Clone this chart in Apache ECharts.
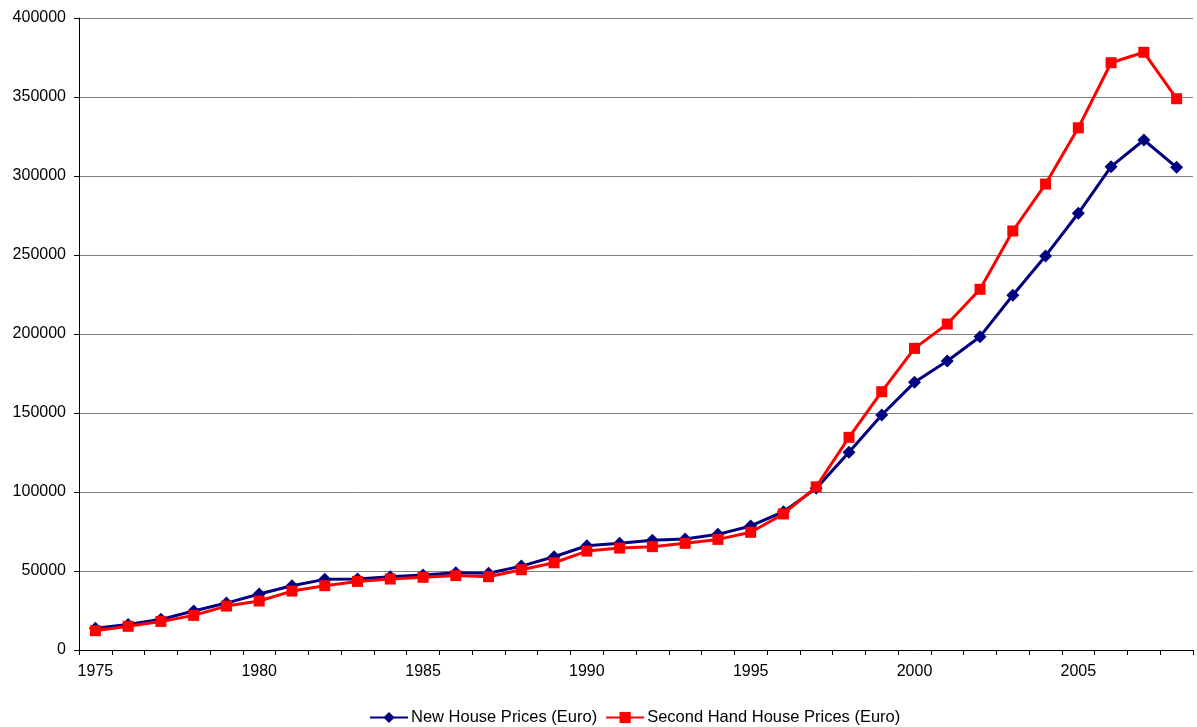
<!DOCTYPE html>
<html>
<head>
<meta charset="utf-8">
<script src="https://cdn.jsdelivr.net/npm/echarts@6/dist/echarts.min.js"></script>
<style>
  html, body { margin: 0; padding: 0; background: #fff; }
  #chart { width: 1197px; height: 727px; }
</style>
</head>
<body>
<div id="chart"></div>
<script>
// Years on the category axis
const years = [
  '1975','1976','1977','1978','1979','1980','1981','1982','1983','1984',
  '1985','1986','1987','1988','1989','1990','1991','1992','1993','1994',
  '1995','1996','1997','1998','1999','2000','2001','2002','2003','2004',
  '2005','2006','2007','2008'
];

// Average new house prices (Euro)
const newHousePrices = [
  13700, 16200, 19400, 24700, 29700, 35400, 40700, 44700, 44900, 46400,
  47400, 48900, 48600, 53100, 59000, 66000, 67500, 69400, 70200, 73200,
  78500, 87500, 102300, 125100, 148700, 169400, 182900, 198300, 224500, 249400,
  276400, 305900, 322800, 305500
];

// Average second hand house prices (Euro)
const secondHandPrices = [
  12200, 15000, 18100, 21900, 27800, 31000, 37300, 40700, 43400, 44900,
  46000, 47100, 46400, 50800, 55200, 62600, 64500, 65400, 67500, 70000,
  74500, 86100, 103300, 134600, 163500, 190900, 206300, 228300, 265200, 294900,
  330500, 371700, 378300, 348900
];

const seriesNames = ['New House Prices (Euro)', 'Second Hand House Prices (Euro)'];

const chart = echarts.init(document.getElementById('chart'), null, { renderer: 'canvas' });

const font = 'Arial, "Liberation Sans", sans-serif';

chart.setOption({
  animation: false,
  backgroundColor: '#ffffff',
  grid: { left: 79, right: 4, top: 18, bottom: 77, containLabel: false },
  legend: {
    top: 704,
    left: 364,
    itemWidth: 38,
    itemHeight: 14,
    itemGap: 8,
    textStyle: { fontFamily: font, fontSize: 16.5, color: '#000', padding: [0, 0, 0, -2] },
    data: seriesNames
  },
  xAxis: {
    type: 'category',
    data: years,
    boundaryGap: true,
    axisLine: { lineStyle: { color: '#000', width: 1 } },
    axisTick: { show: true, interval: 0, length: 5, lineStyle: { color: '#000' } },
    axisLabel: { interval: 4, fontFamily: font, fontSize: 16, color: '#000', margin: 14 },
    splitLine: { show: false }
  },
  yAxis: {
    type: 'value',
    min: 0,
    max: 400000,
    interval: 50000,
    axisLine: { show: true, lineStyle: { color: '#000', width: 1 } },
    axisTick: { show: true, length: 5, lineStyle: { color: '#000' } },
    axisLabel: {
      fontFamily: font, fontSize: 16, color: '#000', margin: 13,
      formatter: (v) => String(v)
    },
    splitLine: { show: true, lineStyle: { color: '#808080', width: 1 } }
  },
  series: [
    {
      name: seriesNames[0],
      type: 'line',
      data: newHousePrices,
      symbol: 'diamond',
      symbolSize: 13,
      lineStyle: { color: '#000080', width: 3 },
      itemStyle: { color: '#000080' },
      z: 2
    },
    {
      name: seriesNames[1],
      type: 'line',
      data: secondHandPrices,
      symbol: 'rect',
      symbolSize: 11,
      lineStyle: { color: '#ff0000', width: 3 },
      itemStyle: { color: '#ff0000' },
      z: 3
    }
  ]
});
</script>
</body>
</html>
